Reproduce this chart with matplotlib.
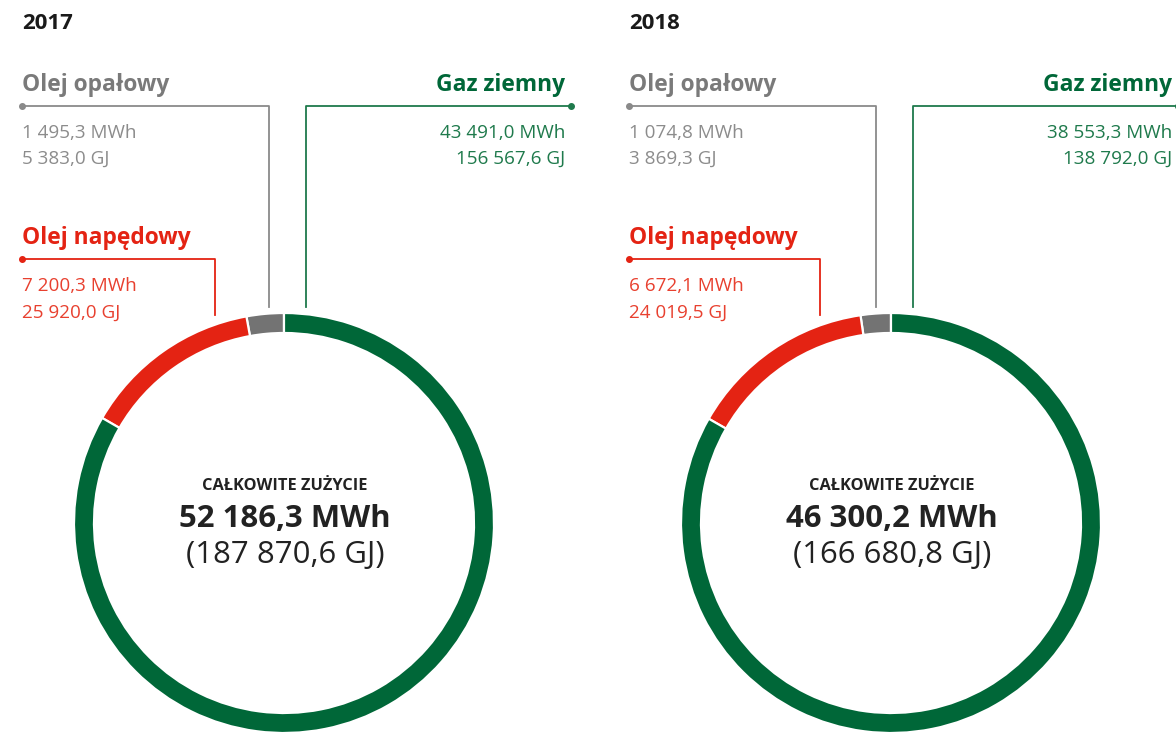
import matplotlib.pyplot as plt

plt.rcParams['font.family'] = ['Open Sans', 'DejaVu Sans']

# data
years = ['2017', '2018']
fuels = ['Olej opałowy', 'Olej napędowy', 'Gaz ziemny']
mwh = {'2017': [1495.3, 7200.3, 43491.0],
       '2018': [1074.8, 6672.1, 38553.3]}
gj = {'2017': [5383.0, 25920.0, 156567.6],
      '2018': [3869.3, 24019.5, 138792.0]}
total_mwh = [52186.3, 46300.2]
total_gj = [187870.6, 166680.8]

ring_colors = ['#737373', '#e42313', '#006738']
title_colors = ['#7a7a7a', '#e42313', '#006738']
value_colors = ['#8c8c8c', '#e8402f', '#1f7a4c']


def pl(v):
    return f"{v:,.1f}".replace(',', ' ').replace('.', ',')


W, H = 1176, 732
fig = plt.figure(figsize=(W / 100, H / 100), dpi=100)
ax = fig.add_axes([0, 0, 1, 1])

for i, yr in enumerate(years):
    dx = i * 607
    cx, cy = 284 + dx, 523
    # y axis is inverted below, so -90 / clockwise means "from top, counter-clockwise" on screen
    ax.pie(mwh[yr], colors=ring_colors, startangle=-90, counterclock=False,
           radius=210, center=(cx, cy), frame=True,
           wedgeprops=dict(width=20, edgecolor='white', linewidth=1.6))

    ax.text(22 + dx, 29, yr, fontsize=16, fontweight='bold', color='#1a1a1a', va='baseline')

    # Olej opałowy (grey) - top left
    ax.text(22 + dx, 91, fuels[0], fontsize=16.4, fontweight='bold', color=title_colors[0], va='baseline')
    ax.plot([22 + dx, 269 + dx, 269 + dx], [106, 106, 307], color='#8a8a8a', lw=1.3)
    ax.plot(22 + dx, 106, 'o', color='#8a8a8a', ms=4)
    ax.text(22 + dx, 138, pl(mwh[yr][0]) + ' MWh', fontsize=13.6, color=value_colors[0], va='baseline')
    ax.text(22 + dx, 164, pl(gj[yr][0]) + ' GJ', fontsize=13.6, color=value_colors[0], va='baseline')

    # Olej napędowy (red)
    rx = 215 + dx if i == 0 else 820
    ax.text(22 + dx, 244, fuels[1], fontsize=16.4, fontweight='bold', color=title_colors[1], va='baseline')
    ax.plot([22 + dx, rx, rx], [259, 259, 315], color='#e42313', lw=1.3)
    ax.plot(22 + dx, 259, 'o', color='#e42313', ms=4)
    ax.text(22 + dx, 291, pl(mwh[yr][1]) + ' MWh', fontsize=13.6, color=value_colors[1], va='baseline')
    ax.text(22 + dx, 318, pl(gj[yr][1]) + ' GJ', fontsize=13.6, color=value_colors[1], va='baseline')

    # Gaz ziemny (green) - top right
    gx = 306 + dx
    rend = 571 + dx
    ax.text(565 + dx, 91, fuels[2], fontsize=16.4, fontweight='bold', color=title_colors[2],
            va='baseline', ha='right')
    ax.plot([rend, gx, gx], [106, 106, 307], color='#1f7a4c', lw=1.3)
    ax.plot(rend, 106, 'o', color='#1f7a4c', ms=4, clip_on=False)
    ax.text(565 + dx, 138, pl(mwh[yr][2]) + ' MWh', fontsize=13.6, color=value_colors[2],
            va='baseline', ha='right')
    ax.text(565 + dx, 164, pl(gj[yr][2]) + ' GJ', fontsize=13.6, color=value_colors[2],
            va='baseline', ha='right')

    # centre labels
    ax.text(cx + 1, 490, 'CAŁKOWITE ZUŻYCIE', fontsize=11.8, fontweight='bold', color='#222222',
            ha='center', va='baseline')
    ax.text(cx + 1, 527, pl(total_mwh[i]) + ' MWh', fontsize=22.4, fontweight='bold', color='#222222',
            ha='center', va='baseline')
    ax.text(cx + 1, 563, '(' + pl(total_gj[i]) + ' GJ)', fontsize=22.4, color='#222222',
            ha='center', va='baseline')

ax.set_xlim(0, W)
ax.set_ylim(H, 0)
ax.set_aspect('auto')
ax.axis('off')

plt.savefig('out.png', dpi=100)
